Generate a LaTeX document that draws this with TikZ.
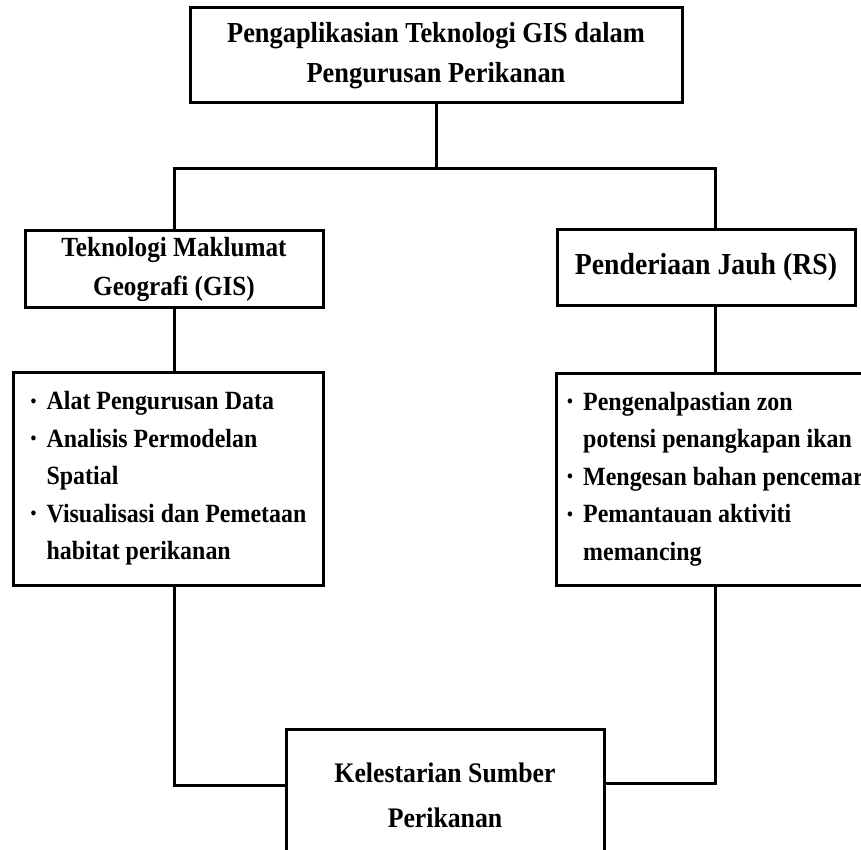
\documentclass[tikz,border=0pt]{standalone}
\usepackage{fontspec}
\setmainfont{Liberation Serif}[FakeStretch=0.91]
\usetikzlibrary{positioning}
\newcommand{\bitem}{\makebox[17pt][l]{\hspace{1pt}\raisebox{2.6pt}{\scalebox{0.7}{\textbullet}}}}
\newcommand{\bcont}{\hspace*{17pt}}
\tikzset{
  % Title boxes
  titlebox/.style={draw,line width=3pt,inner sep=0pt,align=center,
                   font=\bfseries\fontsize{29}{40}\selectfont},
  subbox/.style={draw,line width=3pt,inner sep=0pt,align=center,
                 minimum width=298pt,font=\bfseries\fontsize{27.7}{39}\selectfont},
  % Bullet list boxes
  listbox/.style={draw,line width=3pt,inner sep=0pt,align=left,
                  minimum height=212pt,font=\bfseries\fontsize{26.3}{37.5}\selectfont},
  % Outcome box
  endbox/.style={draw,line width=3pt,inner sep=0pt,align=center,
                 minimum width=318pt,minimum height=133pt,
                 font=\bfseries\fontsize{28.3}{45}\selectfont},
  % Connectors
  link/.style={line width=3pt}
}

\begin{document}
\begin{tikzpicture}[x=1pt,y=-1pt]
  \useasboundingbox (0,0) rectangle (861,850);

  % Main title
  \node[titlebox,minimum width=492pt,minimum height=95pt] (top) at (436,55.5)
    {Pengaplikasian Teknologi GIS dalam\\Pengurusan Perikanan};
  \coordinate[below=64pt of top] (split);

  % Two technologies
  \node[subbox,minimum height=76pt] (gis) at (174,269) {Teknologi Maklumat\\Geografi (GIS)};
  \node[subbox,minimum height=75pt,font=\bfseries\fontsize{30.5}{40}\selectfont] (rs) at (706,267.5)
    {Penderiaan Jauh (RS)};

  % Lists of uses
  \node[listbox,minimum width=310pt,minimum height=213pt] (gislist) at (168,478.5)
    {\bitem Alat Pengurusan Data\\
     \bitem Analisis Permodelan\\
     \bcont Spatial\\
     \bitem Visualisasi dan Pemetaan\\
     \bcont habitat perikanan};
  \node[listbox,minimum width=318pt] (rslist) at (715,479)
    {\bitem Pengenalpastian zon\\
     \bcont potensi penangkapan ikan\\
     \bitem Mengesan bahan pencemar\\
     \bitem Pemantauan aktiviti\\
     \bcont memancing};

  % Outcome
  \node[endbox] (bottom) at (445,795.5) {Kelestarian Sumber\\Perikanan};

  % Tree from the title
  \draw[link] (top.south) -- (split);
  \draw[link] (gis.north) |- (split) -| (rslist.north |- rs.north);

  % Title to list
  \draw[link] (gis.south) -- (gis.south |- gislist.north);
  \draw[link] (rslist.north |- rs.south) -- (rslist.north);

  % Lists to outcome
  \draw[link] (gis.south |- gislist.south) |- ([yshift=10.5pt]bottom.west);
  \draw[link] (rslist.south) |- ([yshift=12.5pt]bottom.east);
\end{tikzpicture}
\end{document}
